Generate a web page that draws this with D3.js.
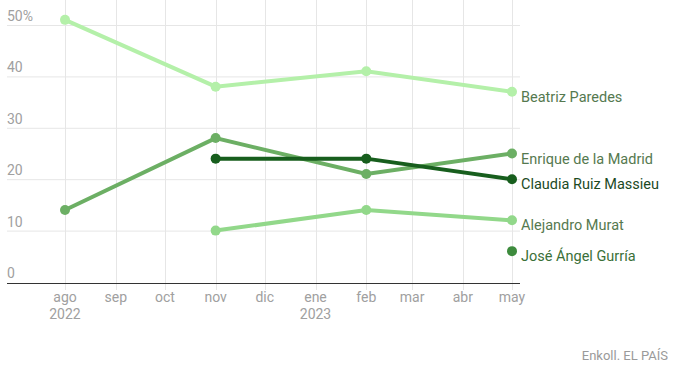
<!DOCTYPE html>
<html>
<head>
<meta charset="utf-8">
<script src="https://cdn.jsdelivr.net/npm/d3@7"></script>
<style>
  body { margin: 0; background: #fff; }
  text { font-family: Roboto, "Noto Sans", sans-serif; }
</style>
</head>
<body>
<div id="graphContainer"></div>
<script>
// months shown on the x axis
const months = ['2022-08-01', '2022-09-01', '2022-10-01', '2022-11-01', '2022-12-01',
  '2023-01-01', '2023-02-01', '2023-03-01', '2023-04-01', '2023-05-01']
const monthLabels = ['ago', 'sep', 'oct', 'nov', 'dic', 'ene', 'feb', 'mar', 'abr', 'may']
const yearLabels = { '2022-08-01': '2022', '2023-01-01': '2023' }
const yTicks = [0, 10, 20, 30, 40, 50]

// survey results (%)
const paredes = [['2022-08-01', 51], ['2022-11-01', 38], ['2023-02-01', 41], ['2023-05-01', 37]]
const madrid = [['2022-08-01', 14], ['2022-11-01', 28], ['2023-02-01', 21], ['2023-05-01', 25]]
const ruiz = [['2022-11-01', 24], ['2023-02-01', 24], ['2023-05-01', 20]]
const murat = [['2022-11-01', 10], ['2023-02-01', 14], ['2023-05-01', 12]]
const gurria = [['2023-05-01', 6]]

const series = [
  { name: 'Beatriz Paredes', values: paredes, color: '#b4f0a9', text: '#55794f' },
  { name: 'Alejandro Murat', values: murat, color: '#92d88a', text: '#55794f' },
  { name: 'Enrique de la Madrid', values: madrid, color: '#6caf64', text: '#55794f' },
  { name: 'José Ángel Gurría', values: gurria, color: '#3d8b3d', text: '#3a7038' },
  { name: 'Claudia Ruiz Massieu', values: ruiz, color: '#175e1d', text: '#1c4a1f' },
]

let svgWidth = 688,
  svgHeight = 376

let svg = d3
  .select('#graphContainer')
  .append('svg')
  .attr('width', svgWidth)
  .attr('height', svgHeight)

const parse = d3.timeParse('%Y-%m-%d')

let x = d3.scaleTime()
  .domain([parse(months[0]), parse(months[months.length - 1])])
  .range([65, 512])
let y = d3.scaleLinear().domain([0, 50]).range([282, 25])

// horizontal grid + y labels
svg.append('g')
  .selectAll('line')
  .data(yTicks.filter((d) => d > 0))
  .enter()
  .append('line')
  .attr('x1', 7)
  .attr('x2', 520)
  .attr('y1', (d) => y(d) + 0.5)
  .attr('y2', (d) => y(d) + 0.5)
  .attr('stroke', '#e6e6e6')

svg.append('g')
  .selectAll('text')
  .data(yTicks)
  .enter()
  .append('text')
  .attr('x', 7)
  .attr('y', (d) => y(d) - 4)
  .attr('fill', '#a0a0a0')
  .style('font-size', '14px')
  .text((d) => (d == 50 ? d + '%' : d))

// vertical grid per month
svg.append('g')
  .selectAll('line')
  .data(months)
  .enter()
  .append('line')
  .attr('x1', (d) => Math.round(x(parse(d))) + 0.5)
  .attr('x2', (d) => Math.round(x(parse(d))) + 0.5)
  .attr('y1', 0)
  .attr('y2', 290)
  .attr('stroke', '#e6e6e6')

// x axis baseline
svg.append('line')
  .attr('x1', 7)
  .attr('x2', 520)
  .attr('y1', 283.5)
  .attr('y2', 283.5)
  .attr('stroke', '#333')
  .attr('stroke-width', 1.2)

let xl = svg.append('g')
xl.selectAll('.m')
  .data(months)
  .enter()
  .append('text')
  .attr('x', (d) => x(parse(d)))
  .attr('y', 302)
  .attr('text-anchor', 'middle')
  .attr('fill', '#a0a0a0')
  .style('font-size', '14px')
  .text((d, i) => monthLabels[i])

xl.selectAll('.y')
  .data(Object.keys(yearLabels))
  .enter()
  .append('text')
  .attr('x', (d) => x(parse(d)))
  .attr('y', 319)
  .attr('text-anchor', 'middle')
  .attr('fill', '#a0a0a0')
  .style('font-size', '14px')
  .text((d) => yearLabels[d])

// lines and dots
let line = d3.line()
  .x((d) => x(parse(d[0])))
  .y((d) => y(d[1]))

series.forEach((s) => {
  let g = svg.append('g')
  if (s.values.length > 1) {
    g.append('path')
      .datum(s.values)
      .attr('d', line)
      .attr('stroke', s.color)
      .attr('stroke-width', 4)
      .attr('fill', 'none')
  }
  g.selectAll('circle')
    .data(s.values)
    .enter()
    .append('circle')
    .attr('cx', (d) => x(parse(d[0])))
    .attr('cy', (d) => y(d[1]))
    .attr('r', 5)
    .attr('fill', s.color)

  let last = s.values[s.values.length - 1]
  g.append('text')
    .attr('x', x(parse(last[0])) + 9)
    .attr('y', y(last[1]) + 5)
    .attr('dy', '0.35em')
    .attr('fill', s.text)
    .style('font-size', '14.5px')
    .text(s.name)
})

// source
svg.append('text')
  .attr('x', 668)
  .attr('y', 360)
  .attr('text-anchor', 'end')
  .attr('fill', '#9a9a9a')
  .style('font-size', '13px')
  .text('Enkoll. EL PAÍS')
</script>
</body>
</html>
